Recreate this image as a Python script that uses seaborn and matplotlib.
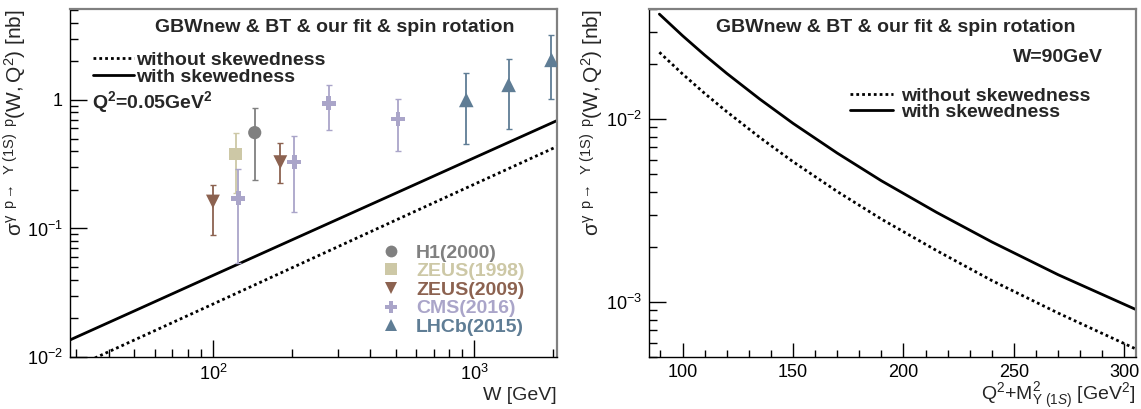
import matplotlib
matplotlib.use("Agg")
import matplotlib.pyplot as plt
import seaborn as sns
import numpy as np
import pandas as pd
from matplotlib.lines import Line2D
from matplotlib.ticker import (LogLocator, NullFormatter, MultipleLocator,
                               FixedLocator, FixedFormatter)

sns.set_theme(style="ticks")
plt.rcParams["font.family"] = ["Liberation Sans", "DejaVu Sans"]
plt.rcParams["mathtext.fontset"] = "custom"
plt.rcParams["mathtext.rm"] = "Liberation Sans"
plt.rcParams["mathtext.it"] = "Liberation Sans:italic"
plt.rcParams["mathtext.bf"] = "Liberation Sans:bold"
plt.rcParams["axes.unicode_minus"] = True

# ---------------- data: left panel (sigma vs W, Q^2 = 0.05 GeV^2) ----------------
W_curve = [28, 50, 100, 200, 500, 1000, 2100]
sigma_with_skew_W = [0.0134, 0.0228, 0.0431, 0.0813, 0.188, 0.355, 0.70]
sigma_without_skew_W = [0.0079, 0.01355, 0.0258, 0.0493, 0.116, 0.221, 0.44]

H1_W = [144.5]
H1_sigma = [0.557]
H1_lo = [0.239]
H1_hi = [0.861]

ZEUS98_W = [122]
ZEUS98_sigma = [0.378]
ZEUS98_lo = [0.188]
ZEUS98_hi = [0.557]

ZEUS09_W = [100, 181]
ZEUS09_sigma = [0.162, 0.328]
ZEUS09_lo = [0.089, 0.224]
ZEUS09_hi = [0.216, 0.466]

CMS_W = [125, 205, 277, 510]
CMS_sigma = [0.172, 0.328, 0.942, 0.711]
CMS_lo = [0.054, 0.135, 0.585, 0.402]
CMS_hi = [0.289, 0.528, 1.31, 1.02]

LHCb_W = [931, 1352, 1972]
LHCb_sigma = [1.0, 1.31, 2.05]
LHCb_lo = [0.455, 0.595, 1.01]
LHCb_hi = [1.61, 2.08, 3.18]

# ---------------- data: right panel (sigma vs Q^2+M^2, W = 90 GeV) ----------------
QM2 = [89.5, 100, 110, 120, 135, 150, 170, 190, 215, 240, 270, 305]
sigma_with_skew_Q = [0.0375, 0.02857, 0.02239, 0.01778, 0.01285, 0.00948,
                     0.00652, 0.00460, 0.00309, 0.00213, 0.00141, 0.000912]
sigma_without_skew_Q = [0.0232, 0.01765, 0.01382, 0.01098, 0.00793, 0.00585,
                        0.00402, 0.00284, 0.00191, 0.00131, 0.00087, 0.000555]

datasets = [
    ("H1(2000)", H1_W, H1_sigma, H1_lo, H1_hi, "#808080", "o", 9.5),
    ("ZEUS(1998)", ZEUS98_W, ZEUS98_sigma, ZEUS98_lo, ZEUS98_hi, "#cdc8a6", "s", 9),
    ("ZEUS(2009)", ZEUS09_W, ZEUS09_sigma, ZEUS09_lo, ZEUS09_hi, "#8c6250", "v", 10),
    ("CMS(2016)", CMS_W, CMS_sigma, CMS_lo, CMS_hi, "#aaa5c9", "P", 10),
    ("LHCb(2015)", LHCb_W, LHCb_sigma, LHCb_lo, LHCb_hi, "#5f7d95", "^", 10.5),
]

W_PX, H_PX = 1141, 409
fig = plt.figure(figsize=(W_PX / 100, H_PX / 100), dpi=100)
fig.patch.set_facecolor("white")
ax1 = fig.add_axes([70 / W_PX, 52 / H_PX, 487 / W_PX, 348 / H_PX])
ax2 = fig.add_axes([649 / W_PX, 52 / H_PX, 487 / W_PX, 348 / H_PX])

DOT = (0, (1.0, 1.1))
FS = 14
YLAB = (r"$\mathrm{\sigma}^{\mathrm{\gamma\;\;p}\rightarrow\;\;\mathrm{\Upsilon\;(1S)\;\;p}}"
        r"\mathrm{(W,Q^{2})}$ [nb]")


def style_frame(ax):
    ax.set_facecolor("white")
    for s in ["top", "right"]:
        ax.spines[s].set_visible(True)
        ax.spines[s].set_color("#808080")
        ax.spines[s].set_linewidth(1.6)
    for s in ["left", "bottom"]:
        ax.spines[s].set_color("black")
        ax.spines[s].set_linewidth(1.0)
    ax.tick_params(which="both", direction="in", top=False, right=False,
                   colors="black", labelsize=13, width=1.0)


# ---------------- left panel ----------------
ax = ax1
ax.set_xscale("log")
ax.set_yscale("log")
ax.set_xlim(28.4, 2070)
ax.set_ylim(0.01, 5.1)

sns.lineplot(x=W_curve, y=sigma_without_skew_W, ax=ax, color="black", lw=2.0,
             linestyle=DOT, sort=False, zorder=2)
sns.lineplot(x=W_curve, y=sigma_with_skew_W, ax=ax, color="black", lw=2.0,
             sort=False, zorder=2)

leg_handles = []
for name, xs, ys, lo, hi, col, mk, ms in datasets:
    yerr = [np.array(ys) - np.array(lo), np.array(hi) - np.array(ys)]
    ax.errorbar(xs, ys, yerr=yerr, fmt="none", ecolor=col, elinewidth=1.3,
                capsize=2, capthick=1.0, zorder=3)
    sns.scatterplot(x=xs, y=ys, ax=ax, color=col, marker=mk, s=ms ** 2,
                    edgecolor="none", linewidth=0, zorder=4, legend=False)
    leg_handles.append(Line2D([], [], ls="none", marker=mk, color=col,
                              markersize=8.5, markeredgewidth=0, label=name))

ax.xaxis.set_major_locator(FixedLocator([100, 1000]))
ax.xaxis.set_major_formatter(FixedFormatter([r"$10^{2}$", r"$10^{3}$"]))
ax.xaxis.set_minor_locator(LogLocator(base=10, subs=np.arange(2, 10), numticks=20))
ax.xaxis.set_minor_formatter(NullFormatter())
ax.yaxis.set_major_locator(FixedLocator([0.01, 0.1, 1]))
ax.yaxis.set_major_formatter(FixedFormatter([r"$10^{-2}$", r"$10^{-1}$", "1"]))
ax.yaxis.set_minor_locator(LogLocator(base=10, subs=np.arange(2, 10), numticks=20))
ax.yaxis.set_minor_formatter(NullFormatter())
style_frame(ax)
ax.tick_params(which="major", length=12, pad=5)
ax.tick_params(which="minor", length=6)
ax.tick_params(axis="y", pad=5)

ax.set_xlabel("W [GeV]", fontsize=FS, loc="right", labelpad=2)
ax.set_ylabel(YLAB, fontsize=15, loc="top")
ax.yaxis.set_label_coords((29 - 70) / 487, 1.0)

ax.text((155 - 70) / 487, (357 - 28) / 348, "GBWnew & BT & our fit & spin rotation",
        transform=ax.transAxes, fontsize=FS, fontweight="bold", ha="left", va="center")
ax.text((92 - 70) / 487, (357 - 102) / 348, r"Q$^{\mathbf{2}}$=0.05GeV$^{\mathbf{2}}$",
        transform=ax.transAxes, fontsize=FS, fontweight="bold", ha="left", va="center")

line_handles = [Line2D([], [], color="black", lw=2.0, ls=DOT, label="without skewedness"),
                Line2D([], [], color="black", lw=2.0, label="with skewedness")]
lg1 = ax.legend(handles=line_handles, loc="upper left",
                bbox_to_anchor=((93 - 70) / 487, (357 - 51) / 348),
                frameon=False, borderpad=0, borderaxespad=0, handlelength=2.1,
                handletextpad=0.1, labelspacing=0.0,
                prop={"size": FS, "weight": "bold"})
ax.add_artist(lg1)
lg2 = ax.legend(handles=leg_handles, loc="upper left",
                bbox_to_anchor=((381 - 70) / 487, (357 - 244) / 348),
                frameon=False, borderpad=0, borderaxespad=0, handlelength=1.0,
                handletextpad=0.8, labelspacing=0.05,
                prop={"size": FS, "weight": "bold"})
for t, d in zip(lg2.get_texts(), datasets):
    t.set_color(d[5])

# ---------------- right panel ----------------
ax = ax2
ax.set_yscale("log")
ax.set_xlim(84.8, 305.3)
ax.set_ylim(5.0e-4, 0.04)

sns.lineplot(x=QM2, y=sigma_without_skew_Q, ax=ax, color="black", lw=2.0,
             linestyle=DOT, sort=False)
sns.lineplot(x=QM2, y=sigma_with_skew_Q, ax=ax, color="black", lw=2.0, sort=False)

ax.xaxis.set_major_locator(MultipleLocator(50))
ax.xaxis.set_minor_locator(MultipleLocator(10))
ax.yaxis.set_major_locator(FixedLocator([1e-3, 1e-2]))
ax.yaxis.set_major_formatter(FixedFormatter([r"$10^{-3}$", r"$10^{-2}$"]))
ax.yaxis.set_minor_locator(LogLocator(base=10, subs=np.arange(2, 10), numticks=20))
ax.yaxis.set_minor_formatter(NullFormatter())
style_frame(ax)
ax.tick_params(axis="x", which="major", length=10, pad=5)
ax.tick_params(axis="x", which="minor", length=5)
ax.tick_params(axis="y", which="major", length=12, pad=5)
ax.tick_params(axis="y", which="minor", length=6)

ax.set_xlabel(r"Q$^{2}$+M$^{2}_{\Upsilon\ (1S)}$ [GeV$^{2}$]", fontsize=FS,
              loc="right", labelpad=0)
ax.set_ylabel(YLAB, fontsize=15, loc="top")
ax.yaxis.set_label_coords((606 - 649) / 487, 1.0)

ax.text((716 - 649) / 487, (357 - 27) / 348, "GBWnew & BT & our fit & spin rotation",
        transform=ax.transAxes, fontsize=FS, fontweight="bold", ha="left", va="center")
ax.text((1103 - 649) / 487, (357 - 58) / 348, "W=90GeV",
        transform=ax.transAxes, fontsize=FS, fontweight="bold", ha="right", va="center")
lg3 = ax.legend(handles=line_handles, loc="upper left",
                bbox_to_anchor=((850 - 649) / 487, (357 - 87) / 348),
                frameon=False, borderpad=0, borderaxespad=0, handlelength=2.2,
                handletextpad=0.45, labelspacing=-0.05,
                prop={"size": FS, "weight": "bold"})

fig.savefig("out.png", dpi=100, facecolor="white")
